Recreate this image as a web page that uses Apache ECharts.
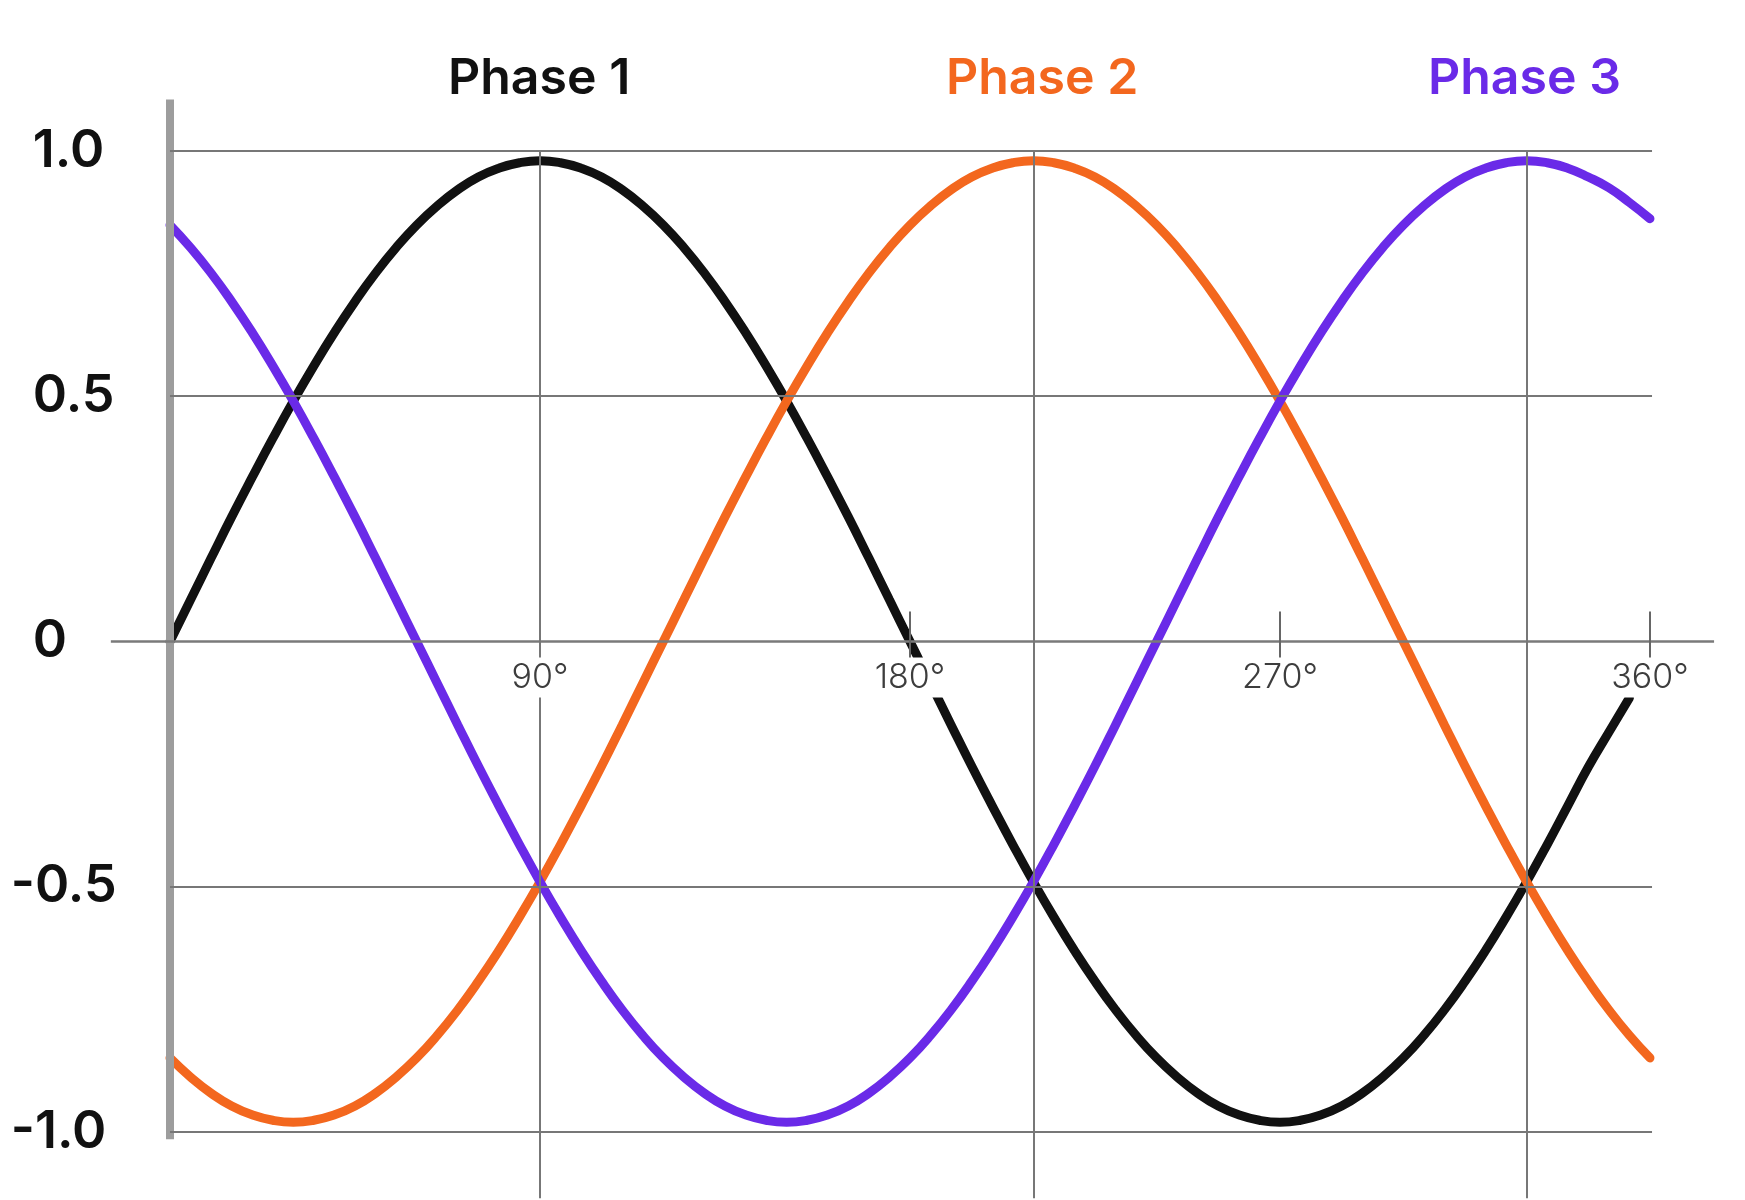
<!DOCTYPE html>
<html><head><meta charset="utf-8">
<script src="https://cdn.jsdelivr.net/npm/echarts@6/dist/echarts.min.js"></script>
<style>html,body{margin:0;padding:0;background:#fff}#c{width:1745px;height:1200px}</style>
</head><body><div id="c"></div>
<script>
// ---- data ----
const seriesNames = ['Phase 1', 'Phase 2', 'Phase 3'];
const angles = [0,5,10,15,20,25,30,35,40,45,50,55,60,65,70,75,80,85,90,95,100,105,110,115,120,125,130,135,140,145,150,155,160,165,170,175,180,185,190,195,200,205,210,215,220,225,230,235,240,245,250,255,260,265,270,275,280,285,290,295,300,305,310,315,320,325,330,335,340,345,350,355,360];
// Phase 1 stops just short of 360° in the reference (ends at ~355°)
const phase1Values = [0.000,0.085,0.170,0.254,0.335,0.414,0.490,0.562,0.630,0.693,0.751,0.803,0.849,0.888,0.921,0.947,0.965,0.976,0.980,
  0.976,0.965,0.947,0.921,0.888,0.849,0.803,0.751,0.693,0.630,0.562,0.490,0.414,0.335,0.254,0.170,0.085,0.000,
  -0.085,-0.170,-0.254,-0.335,-0.414,-0.490,-0.562,-0.630,-0.693,-0.751,-0.803,-0.849,-0.888,-0.921,-0.947,-0.965,-0.976,-0.980,
  -0.976,-0.965,-0.947,-0.921,-0.888,-0.849,-0.803,-0.751,-0.693,-0.630,-0.562,-0.490,-0.414,-0.335,-0.256,-0.185,-0.115,null];
const phase2Values = [-0.849,-0.888,-0.921,-0.947,-0.965,-0.976,-0.980,-0.976,-0.965,-0.947,-0.921,-0.888,-0.849,-0.803,-0.751,-0.693,-0.630,-0.562,-0.490,-0.414,-0.335,-0.254,-0.170,-0.085,
  0.000,0.085,0.170,0.254,0.335,0.414,0.490,0.562,0.630,0.693,0.751,0.803,0.849,0.888,0.921,0.947,0.965,0.976,0.980,
  0.976,0.965,0.947,0.921,0.888,0.849,0.803,0.751,0.693,0.630,0.562,0.490,0.414,0.335,0.254,0.170,0.085,0.000,
  -0.085,-0.170,-0.254,-0.335,-0.414,-0.490,-0.562,-0.630,-0.693,-0.751,-0.803,-0.849];
const phase3Values = [0.849,0.803,0.751,0.693,0.630,0.562,0.490,0.414,0.335,0.254,0.170,0.085,0.000,
  -0.085,-0.170,-0.254,-0.335,-0.414,-0.490,-0.562,-0.630,-0.693,-0.751,-0.803,-0.849,-0.888,-0.921,-0.947,-0.965,-0.976,-0.980,
  -0.976,-0.965,-0.947,-0.921,-0.888,-0.849,-0.803,-0.751,-0.693,-0.630,-0.562,-0.490,-0.414,-0.335,-0.254,-0.170,-0.085,0.000,
  0.085,0.170,0.254,0.335,0.414,0.490,0.562,0.630,0.693,0.751,0.803,0.849,0.888,0.921,0.947,0.965,0.976,0.980,
  0.976,0.965,0.947,0.925,0.895,0.862];
const xTickLabels = [90, 180, 270, 360];
const xTickMarks = [180, 270, 360];
const yLabelsPos = [0, 0.5, 1];
const yLabelsNeg = [-0.5, -1];
const gridDegrees = [90, 210, 330];
const gridLevels = [1, 0.5, -0.5, -1];

// ---- chart ----
const colors = ['#111111', '#F3671E', '#6A2AE8'];
const FONT = 'Inter, Roboto, sans-serif';
const X_MIN = -14.4, X_MAX = 375.6, Y_MIN = -1.1386, Y_MAX = 1.108;
const GRID_LEFT = 110.8, GRID_W = 1603.3, GRID_TOP = 98, GRID_H = 1102;
const ZERO_Y = GRID_TOP + GRID_H * Y_MAX / (Y_MAX - Y_MIN);
const chart = echarts.init(document.getElementById('c'), null, {renderer: 'canvas'});

const pair = (xs, ys) => xs.map((x, i) => [x, ys[i]]).filter(p => p[1] !== null);
const yFmt = v => (v === 0 ? '0' : v.toFixed(1));

const gridMarkLines = [];
gridMarkLines.push([{coord: [0, 1.105], lineStyle: {color: '#9d9d9d', width: 8}}, {coord: [0, -1.015]}]);
gridMarkLines.push([{coord: [X_MIN + 0.01, 0], lineStyle: {color: '#7a7a7a', width: 2.5}}, {coord: [X_MAX - 0.01, 0]}]);
gridLevels.forEach(v => gridMarkLines.push([{coord: [0, v]}, {coord: [360.5, v]}]));
gridDegrees.forEach(d => gridMarkLines.push([{coord: [d, 1]}, {coord: [d, -1.135]}]));

const yLabelStyle = {fontFamily: FONT, fontSize: 52, fontWeight: 600, color: '#111', align: 'left', formatter: yFmt};
const tickStyle = {color: '#666', width: 2};

const option = {
  animation: false,
  backgroundColor: '#ffffff',
  grid: [
    {left: GRID_LEFT, top: GRID_TOP, width: GRID_W, height: GRID_H, containLabel: false, outerBoundsMode: 'none'},
    {left: GRID_LEFT, top: 0, width: GRID_W, height: ZERO_Y, containLabel: false, outerBoundsMode: 'none'}
  ],
  legend: seriesNames.map((n, i) => ({
    data: [{name: n, textStyle: {color: colors[i]}}],
    left: [443, 941, 1423][i], top: 54,
    icon: 'none', itemWidth: 0, itemHeight: 14, padding: 0, selectedMode: false,
    textStyle: {fontFamily: FONT, fontSize: 50, fontWeight: 600}
  })),
  xAxis: [
    {type: 'value', gridIndex: 0, min: X_MIN, max: X_MAX, position: 'bottom', z: 10,
      axisLine: {show: true, onZero: true, onZeroAxisIndex: 0, lineStyle: {color: '#7a7a7a', width: 2.5, opacity: 0}},
      axisTick: {show: true, customValues: xTickMarks, length: 30, lineStyle: tickStyle},
      axisLabel: {show: false}, splitLine: {show: false}},
    {type: 'value', gridIndex: 0, min: X_MIN, max: X_MAX, position: 'top', z: 10,
      axisLine: {show: true, onZero: true, onZeroAxisIndex: 0, lineStyle: {color: '#7a7a7a', width: 2.5, opacity: 0}},
      axisTick: {show: true, customValues: xTickMarks, length: 30, lineStyle: tickStyle},
      axisLabel: {show: false}, splitLine: {show: false}},
    {type: 'value', gridIndex: 1, min: X_MIN, max: X_MAX, position: 'bottom', z: 12,
      axisLine: {show: false, onZero: false}, axisTick: {show: false}, splitLine: {show: false},
      axisLabel: {show: true, customValues: xTickLabels, margin: 16,
        formatter: v => v + '°', fontFamily: FONT, fontSize: 34, fontWeight: 300, color: '#3d3d3d',
        backgroundColor: '#ffffff', padding: [3, 4, 3, 4]}}
  ],
  yAxis: [
    {type: 'value', gridIndex: 0, min: Y_MIN, max: Y_MAX, position: 'left',
      axisLine: {show: false, onZero: false}, axisTick: {show: false}, splitLine: {show: false},
      axisLabel: Object.assign({customValues: yLabelsPos, margin: 78}, yLabelStyle)},
    {type: 'value', gridIndex: 0, min: Y_MIN, max: Y_MAX, position: 'left', offset: 0,
      axisLine: {show: false, onZero: false}, axisTick: {show: false}, splitLine: {show: false},
      axisLabel: Object.assign({customValues: yLabelsNeg, margin: 100}, yLabelStyle)},
    {type: 'value', gridIndex: 1, min: 0, max: 1, show: false}
  ],
  series: [
    {type: 'line', name: 'grid', data: [], z: 1, silent: true, xAxisIndex: 0, yAxisIndex: 0,
      markLine: {silent: true, animation: false, symbol: ['none', 'none'], label: {show: false},
        emphasis: {disabled: true},
        lineStyle: {color: '#777', width: 2, type: 'solid'}, data: gridMarkLines}},
    {type: 'line', name: seriesNames[0], data: pair(angles, phase1Values), smooth: true, showSymbol: false, z: 2,
      lineStyle: {color: colors[0], width: 9, cap: 'round'}, itemStyle: {color: colors[0]}},
    {type: 'line', name: seriesNames[1], data: pair(angles, phase2Values), smooth: true, showSymbol: false, z: 2,
      lineStyle: {color: colors[1], width: 9, cap: 'round'}, itemStyle: {color: colors[1]}},
    {type: 'line', name: seriesNames[2], data: pair(angles, phase3Values), smooth: true, showSymbol: false, z: 2,
      lineStyle: {color: colors[2], width: 9, cap: 'round'}, itemStyle: {color: colors[2]}}
  ]
};
chart.setOption(option);
</script></body></html>
